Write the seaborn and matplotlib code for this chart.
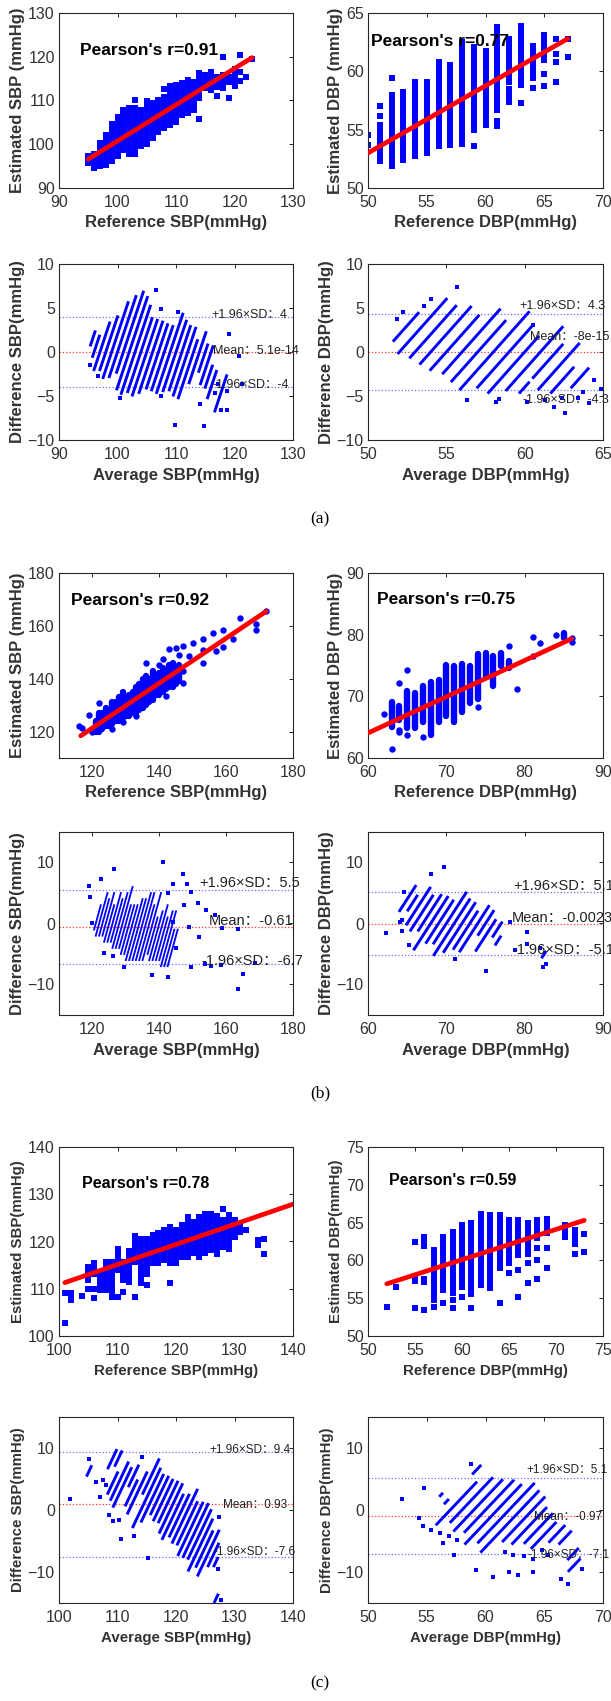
import matplotlib
matplotlib.use('Agg')
import matplotlib.pyplot as plt
import matplotlib.transforms as mtransforms
import numpy as np
import seaborn as sns

sns.set_theme(style='white')
plt.rcParams['font.family'] = ['Liberation Sans', 'Noto Sans CJK SC', 'DejaVu Sans']
plt.rcParams.update({
    'axes.edgecolor': '#262626',
    'axes.linewidth': 0.8,
    'xtick.direction': 'in',
    'ytick.direction': 'in',
    'xtick.top': True,
    'ytick.right': True,
    'xtick.color': '#262626',
    'ytick.color': '#262626',
    'xtick.labelcolor': '#333333',
    'ytick.labelcolor': '#333333',
    'xtick.major.size': 3,
    'ytick.major.size': 3,
    'xtick.major.width': 0.7,
    'ytick.major.width': 0.7,
    'xtick.labelsize': 11.5,
    'ytick.labelsize': 11.5,
    'xtick.major.pad': 5,
    'ytick.major.pad': 3,
})

# ---------------- data ----------------
# dense columns of points: reference value, lowest and highest estimate
a_sbp_col_ref = [95, 96, 97, 98, 99, 100, 101, 102, 103, 104, 105, 106, 107, 108, 109,
                 110, 111, 112, 113, 114, 115, 116, 117, 118, 120]
a_sbp_col_lo = [95.8, 95.5, 95.0, 96.0, 96.1, 97.2, 98.7, 97.8, 98.3, 99.5, 100.1, 101.4, 102.9,
                103.7, 104.4, 105.6, 106.7, 107.1, 107.8, 110.5, 112.8, 112.4, 113.0, 112.8, 113.3]
a_sbp_col_hi = [97.3, 97.8, 100.3, 102.0, 104.6, 106.3, 107.8, 108.2, 108.2, 107.8, 108.6, 109.4,
                110.1, 110.9, 113.3, 113.5, 113.9, 114.7, 114.3, 116.2, 115.8, 116.6, 115.4, 115.8, 117.3]
a_sbp_pt_ref = [96, 98, 103, 103, 105, 108, 110, 114, 117, 118, 119, 119, 119, 121, 121, 121, 122, 123]
a_sbp_pt_est = [94.5, 95.3, 110.1, 97.8, 109.9, 112.6, 105.0, 105.7, 111.1, 120.0, 115.4, 114.3,
                110.6, 120.5, 116.6, 114.4, 115.4, 119.4]
a_sbp_fit_x = [95, 123]
a_sbp_fit_y = [96.6, 119.8]

a_dbp_col_ref = [51, 52, 53, 54, 55, 56, 57, 58, 59, 60, 61, 62, 62, 63, 64, 65]
a_dbp_col_lo = [52.3, 51.9, 52.4, 52.7, 53.0, 53.6, 53.7, 53.8, 55.0, 55.4, 56.7, 59.1, 57.4, 58.8, 59.4, 61.0]
a_dbp_col_hi = [55.4, 58.0, 58.2, 59.1, 59.1, 60.8, 60.5, 62.5, 61.8, 61.7, 63.8, 62.8, 58.5, 63.9, 62.2, 63.1]
a_dbp_pt_ref = [50, 50, 51, 51, 52, 59, 59, 61, 61, 63, 64, 65, 65, 66, 66, 66, 66, 67, 67]
a_dbp_pt_est = [54.5, 53.7, 57.0, 56.2, 59.4, 62.1, 53.6, 55.7, 55.3, 57.3, 58.6, 59.8, 58.7,
                62.8, 61.5, 60.8, 59.1, 62.8, 61.2]
a_dbp_fit_x = [50, 67]
a_dbp_fit_y = [53.0, 62.8]

b_sbp_col_ref = [121, 122, 123, 124, 125, 126, 127, 128, 129, 130, 131, 132, 133, 134, 135, 136,
                 137, 138, 139, 140, 141, 142, 143, 144, 145, 146]
b_sbp_col_lo = [120, 120, 121, 122, 122, 123, 124, 124, 125, 126, 126, 127, 127, 128, 129, 130,
                131, 132, 134, 134, 135, 136, 137, 137, 138, 139]
b_sbp_col_hi = [124, 127, 127, 129, 128, 131, 131, 133, 135, 133, 134, 135, 137, 138, 140, 141,
                140, 143, 140, 142, 144, 143, 145, 146, 144, 145]
b_sbp_pt_ref = [116, 117, 119, 120, 122, 126, 129, 133, 136, 140, 141, 142, 143, 144, 145, 146,
                147, 147, 147, 149, 150, 153, 153, 153, 156, 157, 159, 159, 162, 164, 169, 169, 172]
b_sbp_pt_est = [122.1, 121.3, 126.3, 120.0, 130.9, 121.1, 123.6, 125.9, 146.0, 145.0, 147.5, 133.6,
                151.1, 144.2, 151.5, 149.0, 138.2, 152.2, 143.0, 148.5, 153.4, 155.2, 150.8, 145.8,
                157.4, 150.3, 158.3, 152.0, 155.2, 163.1, 160.8, 158.3, 165.5]
b_sbp_fit_x = [116.5, 172]
b_sbp_fit_y = [118.4, 165.5]

b_dbp_col_ref = [63, 64, 65, 66, 67, 68, 69, 70, 71, 72, 73, 74, 75, 76, 77, 78, 85]
b_dbp_col_lo = [65.1, 66.2, 64.9, 64.9, 65.9, 63.8, 65.9, 66.8, 65.9, 67.4, 68.9, 69.5, 73.2, 71.6, 74.9, 74.6, 79.5]
b_dbp_col_hi = [69.1, 68.5, 70.8, 70.5, 71.6, 72.3, 72.7, 75.0, 74.9, 75.3, 74.9, 76.8, 77.0, 76.5, 77.1, 75.8, 80.3]
b_dbp_pt_ref = [62, 63, 64, 64, 64, 65, 65, 67, 74, 78, 79, 81, 81, 82, 84, 86, 86]
b_dbp_pt_est = [67.1, 61.5, 72.1, 64.6, 64.2, 74.3, 63.8, 63.4, 68.2, 78.2, 71.2, 79.6, 76.6, 78.6, 80.0, 79.4, 78.8]
b_dbp_fit_x = [60, 86]
b_dbp_fit_y = [64.05, 79.35]

c_sbp_col_ref = [102, 105, 106, 107, 108, 109, 110, 111, 112, 113, 114, 115, 116, 117, 118, 119,
                 120, 121, 122, 123, 124, 125, 126, 127, 128, 129, 130, 131, 134]
c_sbp_col_lo = [107.6, 111.8, 113.2, 109.7, 109.7, 109.6, 113.9, 111.8, 111.5, 115.7, 111.3, 113.2,
                115.4, 115.4, 116.1, 115.4, 115.4, 116.8, 116.8, 117.5, 116.8, 117.5, 118.2, 117.3,
                118.9, 118.5, 121.0, 122.0, 119.2]
c_sbp_col_hi = [109.0, 114.6, 115.4, 113.0, 115.6, 115.7, 117.1, 115.7, 118.0, 121.1, 120.6, 120.6,
                121.3, 121.8, 122.5, 123.1, 122.4, 123.4, 125.2, 124.2, 125.1, 125.9, 125.9, 125.4,
                124.5, 125.6, 124.5, 123.2, 120.3]
c_sbp_pt_ref = [101, 101, 104, 105, 106, 106, 109, 110, 110, 111, 113, 115, 119, 128, 132, 135, 135]
c_sbp_pt_est = [109.2, 102.7, 108.5, 109.9, 110.0, 108.1, 108.2, 118.5, 108.3, 109.4, 108.3, 110.8,
                111.3, 126.8, 122.5, 120.5, 117.3]
c_sbp_fit_x = [101, 140]
c_sbp_fit_y = [111.3, 127.9]

c_dbp_col_ref = [55, 56, 56, 57, 58, 59, 60, 61, 62, 63, 64, 65, 66, 67, 68, 69, 71, 72]
c_dbp_col_lo = [57.3, 61.9, 57.1, 54.7, 56.1, 55.7, 56.5, 55.6, 56.8, 56.3, 59.0, 59.6, 60.7, 60.9,
                62.9, 63.6, 63.1, 62.2]
c_dbp_col_hi = [57.6, 63.1, 57.6, 61.4, 63.1, 63.8, 64.7, 65.0, 66.2, 66.0, 66.0, 65.3, 65.3, 64.9,
                65.4, 65.5, 64.7, 64.0]
c_dbp_pt_ref = [52, 53, 55, 55, 56, 57, 58, 59, 59, 60, 61, 64, 65, 66, 66, 67, 67, 68, 68, 68, 69,
                69, 72, 73, 73]
c_dbp_pt_est = [53.8, 56.5, 62.5, 53.7, 53.4, 53.8, 54.3, 54.8, 53.7, 55.2, 53.7, 54.3, 58.3, 58.7,
                55.2, 59.6, 57.0, 61.6, 60.1, 57.5, 61.7, 59.0, 60.8, 63.5, 61.1]
c_dbp_fit_x = [52, 73]
c_dbp_fit_y = [56.9, 65.3]

pearson_r = [0.91, 0.77, 0.92, 0.75, 0.78, 0.59]
# Bland-Altman lines: +1.96 SD, mean, -1.96 SD
ba_limits = [[4, 5.1e-14, -4], [4.3, -8e-15, -4.3],
             [5.5, -0.61, -6.7], [5.1, -0.0023, -5.1],
             [9.4, 0.93, -7.6], [5.1, -0.97, -7.1]]

panel_data = [
    (a_sbp_col_ref, a_sbp_col_lo, a_sbp_col_hi, a_sbp_pt_ref, a_sbp_pt_est, a_sbp_fit_x, a_sbp_fit_y),
    (a_dbp_col_ref, a_dbp_col_lo, a_dbp_col_hi, a_dbp_pt_ref, a_dbp_pt_est, a_dbp_fit_x, a_dbp_fit_y),
    (b_sbp_col_ref, b_sbp_col_lo, b_sbp_col_hi, b_sbp_pt_ref, b_sbp_pt_est, b_sbp_fit_x, b_sbp_fit_y),
    (b_dbp_col_ref, b_dbp_col_lo, b_dbp_col_hi, b_dbp_pt_ref, b_dbp_pt_est, b_dbp_fit_x, b_dbp_fit_y),
    (c_sbp_col_ref, c_sbp_col_lo, c_sbp_col_hi, c_sbp_pt_ref, c_sbp_pt_est, c_sbp_fit_x, c_sbp_fit_y),
    (c_dbp_col_ref, c_dbp_col_lo, c_dbp_col_hi, c_dbp_pt_ref, c_dbp_pt_est, c_dbp_fit_x, c_dbp_fit_y),
]

# ---------------- layout (pixels of the 611x1701 figure) ----------------
W, H = 611, 1701
BLUE = '#0000ff'
COLS = [(59, 293), (368, 603)]
ROWS = [((13, 188), (264, 440)), ((573, 758), (832, 1015)), ((1147, 1336), (1417, 1603))]
CAPTIONS = [('(a)', 519), ('(b)', 1093), ('(c)', 1683)]
LABEL_FS = [12, 12, 12, 12, 10.8, 10.8]
PEARSON_FS = [12.5, 12.5, 12.5, 12.5, 11.5, 11.5]

sc_layout = [
    dict(xlim=(90, 130), xt=np.arange(90, 131, 10), ylim=(90, 130), yt=np.arange(90, 131, 10),
         xl='Reference SBP(mmHg)', yl='Estimated SBP (mmHg)', rpos=(0.088, 0.216), lw=4.3, mk='s'),
    dict(xlim=(50, 70), xt=np.arange(50, 71, 5), ylim=(50, 65), yt=np.arange(50, 66, 5),
         xl='Reference DBP(mmHg)', yl='Estimated DBP (mmHg)', rpos=(0.014, 0.165), lw=4.3, mk='s'),
    dict(xlim=(110, 180), xt=np.arange(120, 181, 20), ylim=(110, 180), yt=np.arange(120, 181, 20),
         xl='Reference SBP(mmHg)', yl='Estimated SBP (mmHg)', rpos=(0.05, 0.15), lw=4.6, mk='o'),
    dict(xlim=(60, 90), xt=np.arange(60, 91, 10), ylim=(60, 90), yt=np.arange(60, 91, 10),
         xl='Reference DBP(mmHg)', yl='Estimated DBP (mmHg)', rpos=(0.038, 0.144), lw=4.6, mk='o'),
    dict(xlim=(100, 140), xt=np.arange(100, 141, 10), ylim=(100, 140), yt=np.arange(100, 141, 10),
         xl='Reference SBP(mmHg)', yl='Estimated SBP(mmHg)', rpos=(0.1, 0.193), lw=4.3, mk='s'),
    dict(xlim=(50, 75), xt=np.arange(50, 76, 5), ylim=(50, 75), yt=np.arange(50, 76, 5),
         xl='Reference DBP(mmHg)', yl='Estimated DBP(mmHg)', rpos=(0.088, 0.179), lw=4.3, mk='s'),
]

ba_layout = [
    dict(xlim=(90, 130), xt=np.arange(90, 131, 10), ylim=(-10, 10), yt=np.arange(-10, 11, 5),
         xl='Average SBP(mmHg)', yl='Difference SBP(mmHg)', tx=[0.651, 0.658, 0.658],
         ty=[4.23, 0.06, -3.74], fs=9, lw=2.1, ps=2.7),
    dict(xlim=(50, 65), xt=np.arange(50, 66, 5), ylim=(-10, 10), yt=np.arange(-10, 11, 5),
         xl='Average DBP(mmHg)', yl='Difference DBP(mmHg)', tx=[0.645, 0.688, 0.657],
         ty=[5.26, 1.76, -5.45], fs=9, lw=2.1, ps=2.7),
    dict(xlim=(110, 180), xt=np.arange(120, 181, 20), ylim=(-15, 15), yt=[-10, 0, 10],
         xl='Average SBP(mmHg)', yl='Difference SBP(mmHg)', tx=[0.599, 0.638, 0.61],
         ty=[6.6, 0.4, -6.2], fs=10.5, lw=1.3, ps=2.7),
    dict(xlim=(60, 90), xt=np.arange(60, 91, 10), ylim=(-15, 15), yt=[-10, 0, 10],
         xl='Average DBP(mmHg)', yl='Difference DBP(mmHg)', tx=[0.617, 0.613, 0.613],
         ty=[6.15, 0.93, -4.4], fs=10.5, lw=2.1, ps=2.7),
    dict(xlim=(100, 140), xt=np.arange(100, 141, 10), ylim=(-15, 15), yt=[-10, 0, 10],
         xl='Average SBP(mmHg)', yl='Difference SBP(mmHg)', tx=[0.643, 0.699, 0.66],
         ty=[9.6, 0.8, -6.8], fs=8.5, lw=2.1, ps=2.7),
    dict(xlim=(50, 70), xt=np.arange(50, 71, 5), ylim=(-15, 15), yt=[-10, 0, 10],
         xl='Average DBP(mmHg)', yl='Difference DBP(mmHg)', tx=[0.675, 0.706, 0.68],
         ty=[6.4, -1.2, -7.2], fs=8.5, lw=2.1, ps=2.7),
]

fig = plt.figure(figsize=(W / 100, H / 100), dpi=100)


def add_axes(x0, x1, y0, y1):
    return fig.add_axes([x0 / W, 1 - y1 / H, (x1 - x0) / W, (y1 - y0) / H])


def style_axes(ax, lay, fs):
    ax.set_xlim(*lay['xlim'])
    ax.set_ylim(*lay['ylim'])
    ax.set_xticks(lay['xt'])
    ax.set_yticks(lay['yt'])
    ax.set_xlabel(lay['xl'], fontsize=fs, fontweight='bold', color='#333333', labelpad=4)
    ax.set_ylabel(lay['yl'], fontsize=fs, fontweight='bold', color='#333333', labelpad=2)
    for sp in ax.spines.values():
        sp.set_visible(True)


def draw_scatter(ax, data, lay, r, fs, pfs):
    col_ref, col_lo, col_hi, pt_ref, pt_est, fit_x, fit_y = data
    cap = 'round' if lay['mk'] == 'o' else 'projecting'
    ax.vlines(col_ref, col_lo, col_hi, colors=BLUE, linewidth=lay['lw'], capstyle=cap, zorder=2)
    sns.scatterplot(x=pt_ref, y=pt_est, marker=lay['mk'], s=lay['lw'] ** 2, color=BLUE,
                    linewidth=0, legend=False, ax=ax, zorder=2)
    sns.lineplot(x=fit_x, y=fit_y, color='#ff0000', linewidth=3.4, ax=ax, zorder=3)
    style_axes(ax, lay, fs)
    ax.text(lay['rpos'][0], 1 - lay['rpos'][1], f"Pearson's r={r:.2f}", transform=ax.transAxes,
            fontsize=pfs, fontweight='bold', color='black', va='center', ha='left')


def draw_ba(ax, data, lay, limits, fs):
    col_ref, col_lo, col_hi, pt_ref, pt_est, _, _ = data
    ref = np.asarray(col_ref, float)
    lo = np.asarray(col_lo, float)
    hi = np.asarray(col_hi, float)
    gap = np.full_like(ref, np.nan)
    seg_x = np.column_stack([(ref + lo) / 2, (ref + hi) / 2, gap]).ravel()
    seg_y = np.column_stack([lo - ref, hi - ref, gap]).ravel()
    ax.plot(seg_x, seg_y, color=BLUE, linewidth=lay['lw'], solid_capstyle='projecting', zorder=2)
    pr = np.asarray(pt_ref, float)
    pe = np.asarray(pt_est, float)
    sns.scatterplot(x=(pr + pe) / 2, y=pe - pr, marker='s', s=lay['ps'] ** 2, color=BLUE,
                    linewidth=0, legend=False, ax=ax, zorder=2)
    up, mean, low = limits
    ax.axhline(up, color='#6a6aff', linestyle=':', linewidth=0.9, zorder=1)
    ax.axhline(mean, color='#ff3030', linestyle=':', linewidth=0.9, zorder=1)
    ax.axhline(low, color='#6a6aff', linestyle=':', linewidth=0.9, zorder=1)
    style_axes(ax, lay, fs)
    trans = mtransforms.blended_transform_factory(ax.transAxes, ax.transData)
    labels = [f'+1.96×SD：{up:g}', f'Mean：{mean:g}', f'-1.96×SD：{low:g}']
    for lab, tx, ty in zip(labels, lay['tx'], lay['ty']):
        ax.text(tx, ty, lab, transform=trans, fontsize=lay['fs'], color='#222222',
                va='center', ha='left', family=['Liberation Sans', 'Noto Sans CJK SC'], zorder=4)


for g, (top_rows, cap) in enumerate(zip(ROWS, CAPTIONS)):
    (t0, t1), (b0, b1) = top_rows
    for c, (x0, x1) in enumerate(COLS):
        i = 2 * g + c
        ax = add_axes(x0, x1, t0, t1)
        draw_scatter(ax, panel_data[i], sc_layout[i], pearson_r[i], LABEL_FS[i], PEARSON_FS[i])
        ax = add_axes(x0, x1, b0, b1)
        draw_ba(ax, panel_data[i], ba_layout[i], ba_limits[i], LABEL_FS[i])
    fig.text(320 / W, 1 - cap[1] / H, cap[0], family='Liberation Serif', fontsize=12.5,
             color='black', ha='center', va='center')

fig.savefig('out.png', dpi=100, facecolor='white')
